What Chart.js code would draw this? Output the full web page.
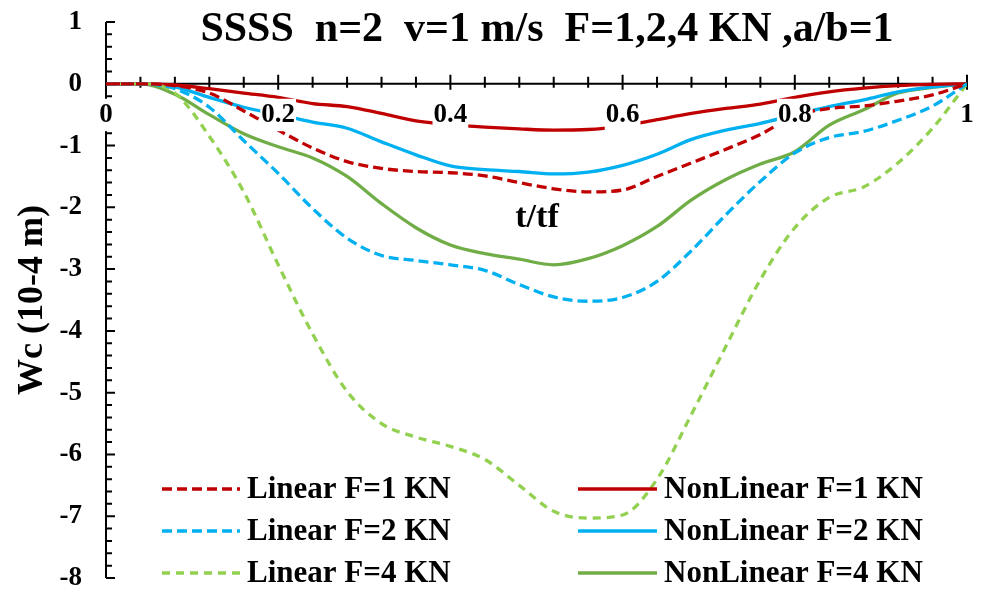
<!DOCTYPE html>
<html><head><meta charset="utf-8">
<script src="https://cdn.jsdelivr.net/npm/chart.js@4.4.1/dist/chart.umd.min.js"></script>
<style>html,body{margin:0;padding:0;background:#fff;} canvas{display:block}</style>
</head><body>
<canvas id="c" width="987" height="593"></canvas>
<script>
// ---- data ----
const tValues      = [0, 0.04, 0.08, 0.12, 0.16, 0.20, 0.24, 0.28, 0.32, 0.36, 0.40, 0.44, 0.48, 0.52, 0.56, 0.60, 0.64, 0.68, 0.72, 0.76, 0.80, 0.84, 0.88, 0.92, 0.96, 1.00];
const linearF1     = [0, 0, -0.03, -0.15, -0.44, -0.75, -1.04, -1.26, -1.37, -1.42, -1.44, -1.49, -1.60, -1.70, -1.75, -1.72, -1.50, -1.28, -1.06, -0.82, -0.52, -0.40, -0.36, -0.28, -0.18, 0];
const linearF2     = [0, 0, -0.08, -0.38, -0.92, -1.45, -2.02, -2.50, -2.78, -2.86, -2.93, -3.02, -3.25, -3.45, -3.52, -3.46, -3.20, -2.70, -2.12, -1.58, -1.12, -0.87, -0.77, -0.59, -0.36, 0];
const linearF4     = [0, 0, -0.15, -0.85, -1.75, -2.93, -4.05, -4.98, -5.50, -5.72, -5.87, -6.08, -6.50, -6.92, -7.03, -6.98, -6.40, -5.35, -4.25, -3.17, -2.33, -1.84, -1.67, -1.28, -0.72, 0];
const nonLinearF1  = [0, 0, -0.02, -0.08, -0.15, -0.22, -0.32, -0.37, -0.48, -0.60, -0.66, -0.70, -0.73, -0.75, -0.74, -0.68, -0.58, -0.48, -0.40, -0.33, -0.22, -0.13, -0.07, -0.03, -0.01, 0];
const nonLinearF2  = [0, 0, -0.05, -0.22, -0.38, -0.50, -0.62, -0.72, -0.94, -1.15, -1.33, -1.39, -1.42, -1.46, -1.43, -1.32, -1.14, -0.90, -0.75, -0.64, -0.50, -0.37, -0.26, -0.13, -0.05, 0];
const nonLinearF4  = [0, 0, -0.17, -0.50, -0.81, -1.02, -1.20, -1.50, -1.94, -2.33, -2.61, -2.75, -2.84, -2.93, -2.83, -2.62, -2.31, -1.88, -1.55, -1.30, -1.10, -0.67, -0.42, -0.15, -0.06, 0];

const xTickValues = [0, 0.2, 0.4, 0.6, 0.8, 1];
const yTickValues = [1, 0, -1, -2, -3, -4, -5, -6, -7, -8];
const seriesNames = ['Linear F=1 KN', 'Linear F=2 KN', 'Linear F=4 KN', 'NonLinear F=1 KN', 'NonLinear F=2 KN', 'NonLinear F=4 KN'];
const titleText = 'SSSS  n=2  v=1 m/s  F=1,2,4 KN ,a/b=1';
const xTitleText = 't/tf';
const yTitleText = 'Wc (10-4 m)';

const FONT = '"Liberation Serif", "Times New Roman", serif';
const pts = arr => tValues.map((t, i) => ({x: t, y: arr[i]}));

function ds(label, arr, color, dash) {
  return {
    label, data: pts(arr), borderColor: color, backgroundColor: color,
    borderWidth: 3.3, borderDash: dash, pointRadius: 0, fill: false,
    cubicInterpolationMode: 'monotone', borderCapStyle: 'butt'
  };
}

const datasets = [
  ds(seriesNames[0], linearF1, '#C00000', [10, 5]),
  ds(seriesNames[1], linearF2, '#00B0F0', [10, 5]),
  ds(seriesNames[2], linearF4, '#92D050', [8, 6]),
  ds(seriesNames[3], nonLinearF1, '#C00000', []),
  ds(seriesNames[4], nonLinearF2, '#00B0F0', []),
  ds(seriesNames[5], nonLinearF4, '#70AD47', [])
];

const decor = {
  id: 'decor',
  beforeDatasetsDraw(chart) {
    const {ctx, scales: {x, y}} = chart;
    const y0 = y.getPixelForValue(0);
    const xl = x.getPixelForValue(0), xr = x.getPixelForValue(1);
    ctx.save();
    ctx.strokeStyle = '#000';
    ctx.lineWidth = 2;
    ctx.beginPath();
    ctx.moveTo(xl, y0); ctx.lineTo(xr, y0);
    for (let i = 0; i <= 25; i++) {
      const px = x.getPixelForValue(i * 0.04);
      const major = i % 5 === 0;
      ctx.moveTo(px, y0 - (major ? 9 : 7));
      ctx.lineTo(px, y0 + (major ? 6 : 4));
    }
    ctx.stroke();
    // y axis
    const yt = y.getPixelForValue(1), yb = y.getPixelForValue(-8);
    ctx.beginPath();
    ctx.moveTo(xl, yt); ctx.lineTo(xl, yb);
    for (let i = 0; i <= 45; i++) {
      const v = 1 - i * 0.2;
      const py = y.getPixelForValue(v);
      const major = i % 5 === 0;
      ctx.moveTo(xl, py);
      ctx.lineTo(xl + (major ? 9 : 6), py);
    }
    ctx.stroke();
    ctx.restore();
  },
  afterDatasetsDraw(chart) {
    const {ctx} = chart;
    ctx.save();
    ctx.fillStyle = '#000';
    ctx.textBaseline = 'middle';
    // title
    ctx.font = 'bold 42px ' + FONT;
    ctx.textAlign = 'center';
    ctx.fillText(titleText, 547, 30);
    // x axis title
    ctx.font = 'bold 34px ' + FONT;
    ctx.fillText(xTitleText, 537, 218);
    // legend
    ctx.font = 'bold 31px ' + FONT;
    ctx.textAlign = 'left';
    const rows = [489, 531, 573];
    const cols = [{x1: 162, x2: 240, tx: 247}, {x1: 578, x2: 657, tx: 664}];
    chart.data.datasets.forEach((d, i) => {
      const c = cols[Math.floor(i / 3)], ry = rows[i % 3];
      ctx.save();
      ctx.strokeStyle = d.borderColor;
      ctx.lineWidth = 3.6;
      ctx.setLineDash(d.borderDash || []);
      ctx.beginPath();
      ctx.moveTo(c.x1, ry); ctx.lineTo(c.x2, ry);
      ctx.stroke();
      ctx.restore();
      ctx.fillText(d.label, c.tx, ry + 1);
    });
    ctx.restore();
  }
};

new Chart(document.getElementById('c'), {
  type: 'line',
  data: {datasets},
  plugins: [decor],
  options: {
    responsive: false,
    animation: false,
    events: [],
    layout: {padding: {top: 22, bottom: 15, right: 20, left: 0}},
    plugins: {legend: {display: false}, tooltip: {enabled: false}, title: {display: false}},
    scales: {
      x: {
        type: 'linear', min: 0, max: 1,
        position: {y: 0},
        grid: {display: false, drawTicks: false},
        border: {display: false},
        afterBuildTicks: s => { s.ticks = xTickValues.map(v => ({value: v})); },
        afterFit: s => { s.height = 0; s.paddingLeft = 0; s.paddingRight = 0; },
        ticks: {
          z: 1, padding: 15, color: '#000', maxRotation: 0, autoSkip: false,
          font: {family: FONT, size: 27, weight: 'bold'},
          showLabelBackdrop: true, backdropColor: '#fff', backdropPadding: {x: 1, y: 0},
          callback: v => String(+(+v).toFixed(2))
        }
      },
      y: {
        type: 'linear', min: -8, max: 1, position: 'left',
        grid: {display: false, drawTicks: false},
        border: {display: false},
        afterBuildTicks: s => { s.ticks = yTickValues.map(v => ({value: v})); },
        afterFit: s => { s.width = 106; s.paddingTop = 0; s.paddingBottom = 0; },
        ticks: {
          padding: 24, color: '#000', autoSkip: false,
          font: {family: FONT, size: 27, weight: 'bold'},
          callback: v => String(v)
        },
        title: {
          display: true, text: yTitleText, color: '#000',
          font: {family: FONT, size: 36, weight: 'bold'},
          padding: {top: 11, bottom: 0}
        }
      }
    }
  }
});
</script>
</body></html>
